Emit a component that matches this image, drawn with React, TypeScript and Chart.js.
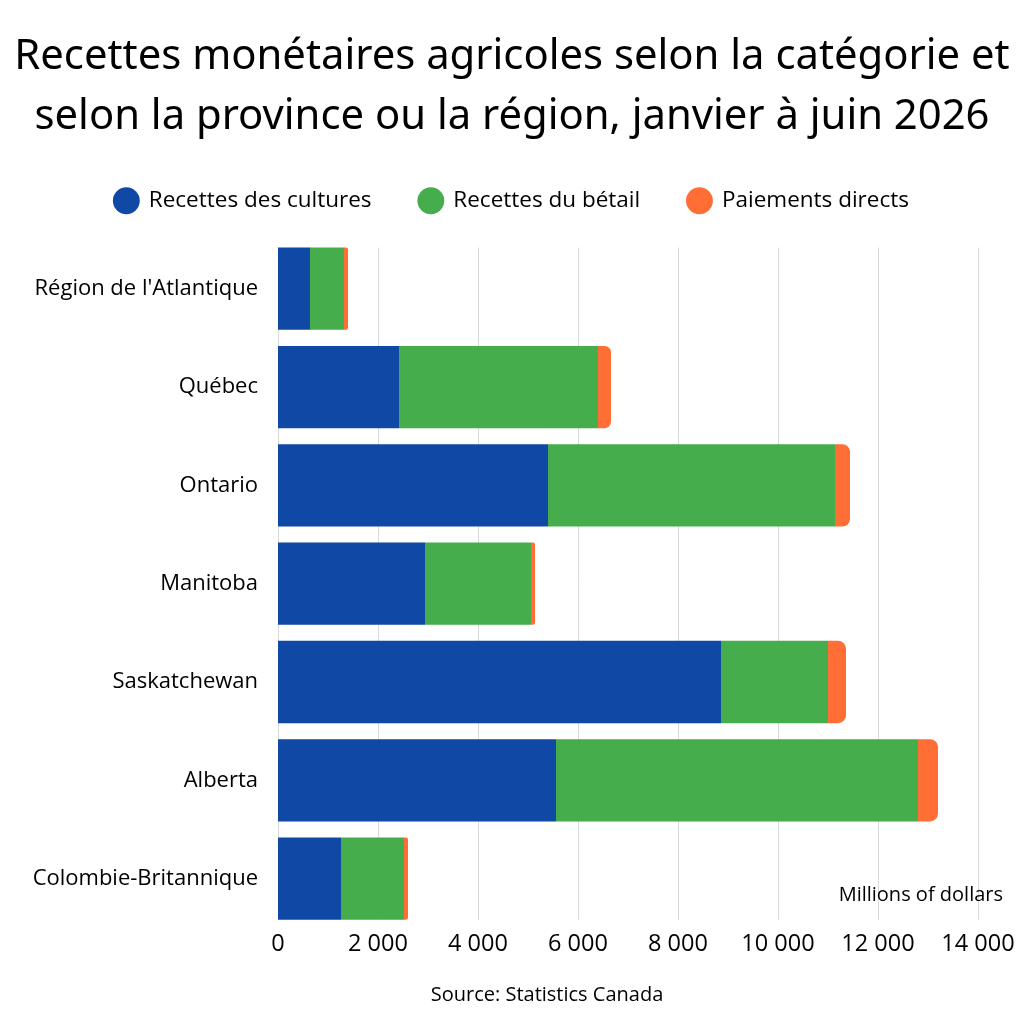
import React, { useEffect, useRef } from "react";
import { Chart, registerables } from "chart.js";

Chart.register(...registerables);

const TITLE_LINES = [
  "Recettes monétaires agricoles selon la catégorie et",
  "selon la province ou la région, janvier à juin 2026",
];
const CATEGORIES = [
  "Région de l'Atlantique",
  "Québec",
  "Ontario",
  "Manitoba",
  "Saskatchewan",
  "Alberta",
  "Colombie-Britannique",
];
const SERIES_NAMES = ["Recettes des cultures", "Recettes du bétail", "Paiements directs"];
const CROPS = [640, 2420, 5400, 2940, 8860, 5560, 1260];
const LIVESTOCK = [680, 3980, 5740, 2120, 2140, 7240, 1260];
const DIRECT = [80, 260, 300, 80, 360, 400, 80];
const X_TICKS = [0, 2000, 4000, 6000, 8000, 10000, 12000, 14000];
const UNIT_LABEL = "Millions of dollars";
const SOURCE = "Source: Statistics Canada";

const COLORS = ["#1048A5", "#45AD4C", "#FF6E35"];
const FONT = "'Open Sans', sans-serif";

function fmt(v: number): string {
  return String(v).replace(/\B(?=(\d{3})+(?!\d))/g, " ");
}

const gridPlugin = {
  id: "customGrid",
  beforeInit(chart: any) {
    const legend = chart.legend;
    if (legend && !legend.__patched) {
      const orig = legend.fit.bind(legend);
      legend.fit = function () {
        orig();
        this.height += 17.5;
      };
      legend.__patched = true;
    }
  },
  beforeDatasetsDraw(chart: any) {
    const { ctx } = chart;
    const xs = chart.scales.x;
    const metaFirst = chart.getDatasetMeta(0).data;
    if (!metaFirst.length) return;
    const first = metaFirst[0];
    const last = metaFirst[metaFirst.length - 1];
    const top = first.y - first.height / 2;
    const bottom = last.y + last.height / 2;
    ctx.save();
    ctx.strokeStyle = "#D9D9D9";
    ctx.lineWidth = 1;
    for (const t of X_TICKS) {
      const x = Math.round(xs.getPixelForValue(t)) + 0.5;
      ctx.beginPath();
      ctx.moveTo(x, top);
      ctx.lineTo(x, bottom);
      ctx.stroke();
    }
    ctx.restore();
  },
  afterDraw(chart: any) {
    const { ctx, chartArea } = chart;
    ctx.save();
    ctx.fillStyle = "#000";
    ctx.font = `20px ${FONT}`;
    ctx.textAlign = "right";
    ctx.textBaseline = "middle";
    ctx.fillText(UNIT_LABEL, chartArea.right + 25, chartArea.bottom - 33);
    ctx.textAlign = "center";
    ctx.fillText(SOURCE, 547, 995);
    ctx.restore();
  },
};

export default function App() {
  const ref = useRef<HTMLCanvasElement | null>(null);
  useEffect(() => {
    document.body.style.margin = "0";
    const canvas = ref.current!;
    const data = [CROPS, LIVESTOCK, DIRECT];
    const chart = new Chart(canvas, {
      type: "bar",
      data: {
        labels: CATEGORIES,
        datasets: SERIES_NAMES.map((name, i) => ({
          label: name,
          data: data[i],
          backgroundColor: COLORS[i],
          borderWidth: 0,
          borderRadius: 8,
          borderSkipped: "start",
          categoryPercentage: 1,
          barPercentage: 0.837,
        })),
      },
      options: {
        indexAxis: "y",
        responsive: false,
        animation: false,
        devicePixelRatio: 1,
        layout: { padding: { left: 0, right: 0, bottom: 64, top: 0 } },
        scales: {
          x: {
            stacked: true,
            min: 0,
            max: 14000,
            afterBuildTicks: (axis: any) => {
              axis.ticks = X_TICKS.map((v) => ({ value: v }));
            },
            afterFit: (axis: any) => {
              axis.paddingRight = 46;
            },
            grid: { display: false, drawTicks: false },
            border: { display: false },
            ticks: {
              color: "#000",
              font: { family: FONT, size: 23.5 },
              padding: 2,
              callback: (v: any) => fmt(Number(v)),
            },
          },
          y: {
            stacked: true,
            afterFit: (axis: any) => {
              axis.width = 278;
            },
            grid: { display: false, drawTicks: false },
            border: { display: false },
            ticks: {
              color: "#000",
              font: { family: FONT, size: 22 },
              padding: 20,
            },
          },
        },
        plugins: {
          title: {
            display: true,
            text: TITLE_LINES,
            color: "#000",
            font: { family: "'Noto Sans', sans-serif", size: 41.8, weight: "normal", lineHeight: 1.43 },
            padding: { top: 27, bottom: -5 },
          },
          legend: {
            display: true,
            position: "top",
            labels: {
              usePointStyle: true,
              pointStyle: "circle",
              boxWidth: 22.5,
              boxHeight: 19,
              color: "#000",
              font: { family: FONT, size: 22.5 },
              padding: 48,
            },
          },
          tooltip: { enabled: false },
        },
      },
      plugins: [gridPlugin],
    } as any);
    return () => chart.destroy();
  }, []);
  return <canvas ref={ref} width={1024} height={1024} style={{ display: "block" }} />;
}
